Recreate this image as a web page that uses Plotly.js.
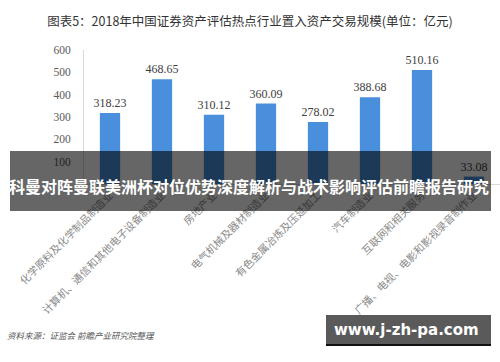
<!DOCTYPE html>
<html><head><meta charset="utf-8">
<script src="https://cdn.plot.ly/plotly-3.0.1.min.js"></script>
<style>html,body{margin:0;padding:0;background:#fff}#c{width:500px;height:362px}</style>
</head><body><div id="c"></div>
<script>
const categories = ['化学原料及化学制品制造业','计算机、通信和其他电子设备制造业','房地产业','电气机械及器材制造业','有色金属冶炼及压延加工','汽车制造业','互联网和相关服务','广播、电视、电影和影视录音制作业'];
const values = [318.23, 468.65, 310.12, 360.09, 278.02, 388.68, 510.16, 33.08];
const yTicks = [100, 200, 300, 400, 500, 600];
const titleText = '图表5：2018年中国证券资产评估热点行业置入资产交易规模(单位：亿元)';
const bannerText = '科曼对阵曼联美洲杯对位优势深度解析与战术影响评估前瞻报告研究';
const sourceText = '资料来源：证监会 前瞻产业研究院整理';
const siteText = 'www.j-zh-pa.com';

const W = 500, H = 362, L = 84, T = 50, B = 178;
const pw = W - L, ph = H - T - B;
const px = x => (x - L) / pw;
const py = y => (H - B - y) / ph;

const trace = {
  type: 'bar', x: categories, y: values,
  marker: {color: '#4a8fdc'},
  text: values.map(v => v.toFixed(2)), textposition: 'outside', cliponaxis: false,
  constraintext: 'none',
  textfont: {family: 'Liberation Serif', size: 12, color: '#404040'},
  hoverinfo: 'skip'
};

const layout = {
  width: W, height: H,
  margin: {l: L, r: 0, t: T, b: B},
  paper_bgcolor: '#fff', plot_bgcolor: '#fff',
  showlegend: false, bargap: 0.61,
  title: {text: titleText, x: 0.5, xref: 'container', xanchor: 'center', y: 1 - 22/H, yanchor: 'middle',
          font: {family: 'Noto Sans CJK SC', size: 12.5, color: '#333'}},
  xaxis: {type: 'category', showline: true, linecolor: '#d9d9d9', ticks: '', tickangle: -45,
          tickfont: {family: 'Noto Sans CJK SC', size: 10.5, color: '#8a8a8a'}, fixedrange: true},
  yaxis: {range: [0, 600], tickvals: yTicks, showgrid: false, zeroline: false, showline: true,
          linecolor: '#d9d9d9', ticks: '', ticklabelstandoff: 10,
          tickfont: {family: 'Liberation Serif', size: 11.5, color: '#595959'}},
  shapes: [
    {type: 'rect', xref: 'paper', yref: 'paper', x0: px(10), x1: px(491), y0: py(211), y1: py(151),
     fillcolor: 'rgba(0,0,0,0.6)', line: {width: 0}, layer: 'above'},
    {type: 'rect', xref: 'paper', yref: 'paper', x0: px(326), x1: px(491), y0: py(345), y1: py(315),
     fillcolor: 'rgba(90,90,90,1)', line: {width: 0}, layer: 'above'},
    {type: 'line', xref: 'paper', yref: 'paper', x0: px(326), x1: px(491), y0: py(345), y1: py(345),
     line: {color: '#111', width: 2}, layer: 'above'}
  ],
  annotations: [
    {text: '<b>' + bannerText + '</b>', xref: 'paper', yref: 'paper', x: px(249), y: py(186),
     xanchor: 'center', yanchor: 'middle', showarrow: false,
     font: {family: 'Noto Sans CJK SC', size: 16, color: '#fff'}},
    {text: '<b>' + siteText + '</b>', xref: 'paper', yref: 'paper', x: px(406), y: py(330),
     xanchor: 'center', yanchor: 'middle', showarrow: false,
     font: {family: 'DejaVu Sans', size: 15, color: '#fff'}},
    {text: '<i>' + sourceText + '</i>', xref: 'paper', yref: 'paper', x: px(5), y: py(335),
     xanchor: 'left', yanchor: 'middle', showarrow: false,
     font: {family: 'Noto Sans CJK SC', size: 8.5, color: '#555'}}
  ]
};

Plotly.newPlot('c', [trace], layout, {displayModeBar: false, staticPlot: true});
</script></body></html>
